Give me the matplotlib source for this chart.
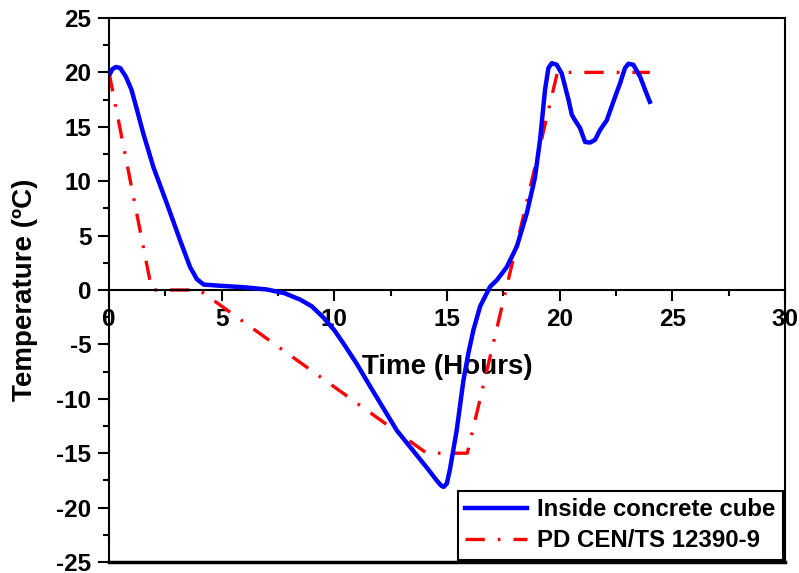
import matplotlib
matplotlib.use("Agg")
import matplotlib.pyplot as plt
from matplotlib.ticker import MultipleLocator

plt.rcParams['font.family'] = ['Liberation Sans', 'DejaVu Sans']
plt.rcParams['font.weight'] = 'bold'
plt.rcParams['axes.unicode_minus'] = False

# measured temperature inside the cube (hours, degC)
cube_t = [0.05, 0.15, 0.3, 0.5, 0.75, 1.0, 1.25, 1.52, 1.97, 2.56, 3.15, 3.6, 3.9, 4.2,
          4.85, 6.0, 7.0, 7.8, 8.5, 9.0, 9.5, 10.0, 10.4, 11.0, 11.6, 12.77, 14.17, 14.54,
          14.75, 14.85, 14.99, 15.13, 15.28, 15.43, 15.73, 15.95, 16.17, 16.47, 16.91, 17.21,
          17.65, 18.1, 18.54, 18.9, 19.13, 19.35, 19.5, 19.65, 19.87, 20.09, 20.24, 20.39,
          20.54, 20.68, 20.9, 21.13, 21.35, 21.57, 21.79, 22.09, 22.38, 22.68, 22.9, 23.05,
          23.27, 23.57, 23.79, 24.0]
cube_temp = [19.9, 20.3, 20.5, 20.4, 19.6, 18.4, 16.5, 14.4, 11.3, 8.0, 4.6, 2.1, 1.0, 0.5,
             0.4, 0.25, 0.05, -0.3, -0.9, -1.5, -2.5, -3.7, -4.9, -6.8, -8.9, -12.9, -16.5, -17.5,
             -18.0, -18.1, -17.8, -16.5, -14.7, -12.9, -8.3, -5.8, -3.7, -1.5, 0.3, 0.9,
             2.1, 4.0, 7.05, 10.3, 13.8, 18.4, 20.4, 20.85, 20.7, 19.9, 18.7, 17.5,
             16.1, 15.6, 14.9, 13.6, 13.55, 13.8, 14.7, 15.6, 17.3, 19.0, 20.4, 20.8,
             20.7, 19.6, 18.4, 17.3]

# PD CEN/TS 12390-9 reference cycle
std_t = [0, 1.9, 4.0, 14.1, 15.9, 19.9, 24.0]
std_temp = [20, 0, 0, -15, -15, 20, 20]

fig = plt.figure(figsize=(7.99, 5.73), dpi=100)
ax = fig.add_axes([0.1364, 0.0192, 0.8461, 0.9494])

ax.plot(cube_t, cube_temp, color='#0000ff', lw=3.2, label='Inside concrete cube', zorder=3)
ax.plot(std_t, std_temp, color='#ff0000', lw=2.4, dashes=(5.8, 3.9, 0.8, 3.9),
        dash_capstyle='butt', label='PD CEN/TS 12390-9', zorder=2)

ax.set_xlim(0, 30)
ax.set_ylim(-25, 25)
ax.xaxis.set_major_locator(MultipleLocator(5))
ax.xaxis.set_minor_locator(MultipleLocator(2.5))
ax.yaxis.set_major_locator(MultipleLocator(5))
ax.yaxis.set_minor_locator(MultipleLocator(2.5))

ax.spines['bottom'].set_position(('data', 0))
for s in ax.spines.values():
    s.set_linewidth(1.5)
ax.axhline(-25, color='black', lw=2.5, clip_on=False)

ax.tick_params(which='both', direction='out', width=1.5, top=False, right=False)
ax.tick_params(which='major', length=7.7, labelsize=17.5, pad=5)
ax.tick_params(which='minor', length=4)
for lab in ax.get_xticklabels() + ax.get_yticklabels():
    lab.set_fontweight('bold')

ax.set_xlabel('Time (Hours)', fontsize=20, fontweight='bold', va='center')
ax.xaxis.set_label_coords(0.5, 0.358)
ax.set_ylabel('Temperature (ºC)', fontsize=20, fontweight='bold', va='center')
ax.yaxis.set_label_coords(-0.124, 0.5)

leg = ax.legend(loc='lower right', bbox_to_anchor=(1.0, 0.0), borderaxespad=0.1,
                fontsize=17.3, handlelength=2.6, handletextpad=0.4, labelspacing=0.35,
                borderpad=0.3, fancybox=False, edgecolor='black', framealpha=1)
leg.get_frame().set_linewidth(1.5)
for t in leg.get_texts():
    t.set_fontweight('bold')

fig.savefig('out.png', dpi=100)
